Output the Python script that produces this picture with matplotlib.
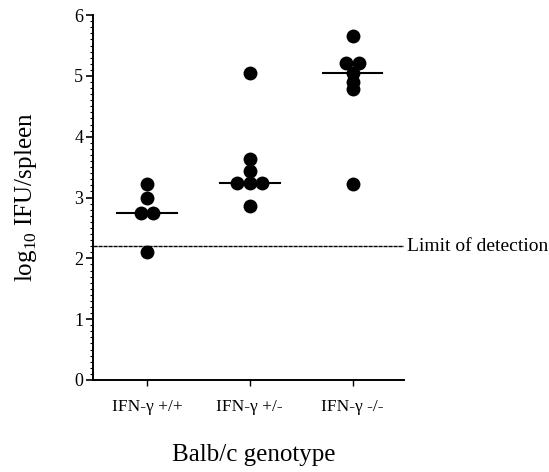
import numpy as np
import matplotlib
matplotlib.use("Agg")
import matplotlib.pyplot as plt
from matplotlib.ticker import MultipleLocator

# log10 IFU/spleen
GENOTYPES = ["IFN-\u03b3 +/+", "IFN-\u03b3 +/-", "IFN-\u03b3 -/-"]
WT_VALUES = [3.22, 2.99, 2.75, 2.75, 2.11]
HET_VALUES = [5.05, 3.63, 3.44, 3.24, 3.24, 3.24, 2.86]
KO_VALUES = [5.65, 5.22, 5.22, 5.05, 4.90, 4.78, 3.22]
LIMIT_OF_DETECTION = 2.2

plt.rcParams["font.family"] = ["Liberation Serif", "DejaVu Serif"]
plt.rcParams["mathtext.fontset"] = "custom"
plt.rcParams["mathtext.rm"] = "Liberation Serif"


def spread(values, step=0.12):
    # put tied values side by side, like a dot plot
    vals = np.asarray(values)
    offsets = np.zeros(len(vals))
    for v in np.unique(vals):
        idx = np.where(vals == v)[0]
        n = len(idx)
        offsets[idx] = (np.arange(n) - (n - 1) / 2) * step
    return offsets


fig = plt.figure(figsize=(5.49, 4.72), dpi=100)
ax = fig.add_axes([0.1694, 0.195, 0.5665, 0.773])

groups = [WT_VALUES, HET_VALUES, KO_VALUES]
for i, vals in enumerate(groups):
    xpos = i + 1
    ax.scatter(xpos + spread(vals), vals, s=100, color="black", zorder=3, linewidths=0)
    med = np.median(vals)
    ax.plot([xpos - 0.29, xpos + 0.29], [med, med], color="black", lw=1.5, zorder=2)

ax.axhline(LIMIT_OF_DETECTION, color="black", lw=1.0, linestyle=(0, (3, 0.6)), zorder=1)
ax.text(3.53, LIMIT_OF_DETECTION, "Limit of detection", va="center", ha="left",
        fontsize=14, clip_on=False)

ax.set_xlim(0.476, 3.5)
ax.set_ylim(0, 6)
ax.set_xticks([1, 2, 3])
ax.set_xticklabels(GENOTYPES, fontsize=12.5)
ax.set_yticks(range(7))
ax.yaxis.set_minor_locator(MultipleLocator(0.1))
ax.tick_params(axis="y", which="major", length=5, width=1.2, labelsize=13, pad=2)
ax.tick_params(axis="y", which="minor", length=2.5, width=0.8)
ax.tick_params(axis="x", length=4, width=1.0, pad=10)

for spine in ["top", "right"]:
    ax.spines[spine].set_visible(False)
ax.spines["left"].set_linewidth(1.4)
ax.spines["bottom"].set_linewidth(1.4)

ax.set_ylabel(r"log$_{10}$ IFU/spleen", fontsize=18, labelpad=25)
fig.text(254 / 549, 1 - 455 / 472, "Balb/c genotype", ha="center", va="center", fontsize=18)

fig.savefig("out.png", dpi=100)
